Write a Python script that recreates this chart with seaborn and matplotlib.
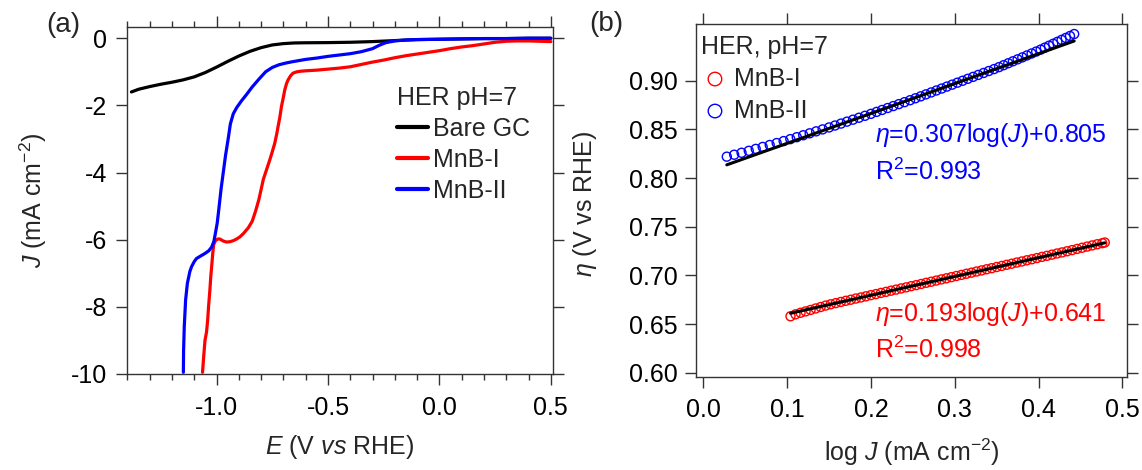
import matplotlib
matplotlib.use("Agg")
import matplotlib.pyplot as plt
import seaborn as sns
import pandas as pd
from matplotlib.ticker import MultipleLocator, FixedLocator

# ---------------- (a) polarization curves, HER at pH 7 ----------------
E_bare = [-1.382, -1.35, -1.30, -1.25, -1.20, -1.15, -1.10, -1.05, -1.00, -0.95,
          -0.90, -0.85, -0.80, -0.75, -0.70, -0.65, -0.60, -0.50, -0.40, -0.30,
          -0.20, -0.10, 0.00, 0.10, 0.20, 0.30, 0.40, 0.50]
J_bare = [-1.60, -1.52, -1.44, -1.37, -1.31, -1.24, -1.15, -1.02, -0.86, -0.69,
          -0.53, -0.39, -0.28, -0.20, -0.16, -0.14, -0.135, -0.13, -0.12, -0.10,
          -0.07, -0.04, -0.03, -0.02, -0.01, -0.01, 0.00, 0.00]

E_mnb1 = [-1.063, -1.058, -1.052, -1.045, -1.040, -1.036, -1.030, -1.026, -1.022, -1.017,
          -1.013, -1.005, -0.995, -0.985, -0.970, -0.955, -0.940, -0.925, -0.910, -0.896,
          -0.880, -0.858, -0.840, -0.825, -0.810, -0.800, -0.790, -0.775, -0.761, -0.750,
          -0.739, -0.730, -0.724, -0.716, -0.709, -0.700, -0.694, -0.686, -0.679, -0.668,
          -0.657, -0.640, -0.620, -0.600, -0.550, -0.500, -0.450, -0.400, -0.350, -0.300,
          -0.250, -0.200, -0.150, -0.100, -0.050, 0.000, 0.050, 0.100, 0.150, 0.200,
          0.250, 0.300, 0.350, 0.400, 0.450, 0.500]
J_mnb1 = [-9.95, -9.50, -9.00, -8.75, -8.40, -8.00, -7.50, -7.10, -6.80, -6.40,
          -6.15, -6.03, -5.98, -5.98, -6.04, -6.07, -6.06, -6.03, -5.98, -5.92,
          -5.82, -5.65, -5.45, -5.15, -4.80, -4.50, -4.20, -3.90, -3.62, -3.38,
          -3.13, -2.85, -2.63, -2.35, -2.04, -1.75, -1.54, -1.35, -1.24, -1.12,
          -1.04, -1.00, -0.98, -0.97, -0.95, -0.92, -0.89, -0.85, -0.78, -0.71,
          -0.65, -0.58, -0.52, -0.47, -0.42, -0.37, -0.31, -0.26, -0.22, -0.17,
          -0.12, -0.09, -0.08, -0.08, -0.09, -0.10]

E_mnb2 = [-1.149, -1.148, -1.145, -1.139, -1.131, -1.120, -1.112, -1.100, -1.090, -1.070,
          -1.052, -1.035, -1.022, -1.012, -1.005, -0.997, -0.990, -0.980, -0.970, -0.960,
          -0.948, -0.938, -0.925, -0.910, -0.890, -0.866, -0.840, -0.810, -0.780, -0.750,
          -0.720, -0.690, -0.660, -0.600, -0.550, -0.500, -0.450, -0.400, -0.350, -0.300,
          -0.270, -0.240, -0.200, -0.150, -0.100, -0.050, 0.000, 0.100, 0.200, 0.300,
          0.400, 0.500]
J_mnb2 = [-9.95, -9.30, -8.60, -7.80, -7.30, -6.95, -6.80, -6.65, -6.56, -6.48,
          -6.41, -6.33, -6.22, -6.05, -5.80, -5.50, -5.10, -4.50, -4.00, -3.50,
          -3.00, -2.55, -2.25, -2.07, -1.88, -1.68, -1.45, -1.22, -1.00, -0.87,
          -0.79, -0.74, -0.70, -0.63, -0.59, -0.54, -0.50, -0.46, -0.40, -0.31,
          -0.21, -0.13, -0.08, -0.05, -0.04, -0.035, -0.03, -0.02, -0.01, -0.01,
          0.00, 0.00]

# ---------------- (b) Tafel data ----------------
logJ_mnb2 = [0.0280, 0.0368, 0.0456, 0.0542, 0.0625, 0.0708, 0.0792, 0.0875, 0.0958, 0.1038,
             0.1115, 0.1192, 0.1269, 0.1346, 0.1423, 0.1500, 0.1571, 0.1643, 0.1714, 0.1786,
             0.1857, 0.1929, 0.2000, 0.2067, 0.2133, 0.2200, 0.2267, 0.2333, 0.2400, 0.2467,
             0.2531, 0.2594, 0.2656, 0.2719, 0.2781, 0.2844, 0.2906, 0.2969, 0.3031, 0.3094,
             0.3156, 0.3219, 0.3281, 0.3344, 0.3406, 0.3469, 0.3528, 0.3583, 0.3639, 0.3694,
             0.3750, 0.3806, 0.3861, 0.3917, 0.3972, 0.4025, 0.4075, 0.4125, 0.4175, 0.4225,
             0.4275, 0.4325, 0.4375, 0.4425]
eta_mnb2 = [0.822, 0.824, 0.826, 0.828, 0.830, 0.832, 0.834, 0.836, 0.838, 0.840,
            0.842, 0.844, 0.846, 0.848, 0.850, 0.852, 0.854, 0.856, 0.858, 0.860,
            0.862, 0.864, 0.866, 0.868, 0.870, 0.872, 0.874, 0.876, 0.878, 0.880,
            0.882, 0.884, 0.886, 0.888, 0.890, 0.892, 0.894, 0.896, 0.898, 0.900,
            0.902, 0.904, 0.906, 0.908, 0.910, 0.912, 0.914, 0.916, 0.918, 0.920,
            0.922, 0.924, 0.926, 0.928, 0.930, 0.932, 0.934, 0.936, 0.938, 0.940,
            0.942, 0.944, 0.946, 0.948]

logJ_mnb1 = [0.104, 0.110, 0.116, 0.122, 0.128, 0.134, 0.140, 0.146, 0.152, 0.158,
             0.164, 0.170, 0.176, 0.182, 0.188, 0.194, 0.200, 0.206, 0.212, 0.218,
             0.224, 0.230, 0.236, 0.242, 0.248, 0.254, 0.260, 0.266, 0.272, 0.278,
             0.284, 0.290, 0.296, 0.302, 0.308, 0.314, 0.320, 0.326, 0.332, 0.338,
             0.344, 0.350, 0.356, 0.362, 0.368, 0.374, 0.380, 0.386, 0.392, 0.398,
             0.404, 0.410, 0.416, 0.422, 0.428, 0.434, 0.440, 0.446, 0.452, 0.458,
             0.464, 0.470, 0.476, 0.479]
eta_mnb1 = [0.6580, 0.6600, 0.6616, 0.6630, 0.6645, 0.6660, 0.6675, 0.6690, 0.6703, 0.6715,
            0.6727, 0.6739, 0.6750, 0.6762, 0.6773, 0.6785, 0.6797, 0.6808, 0.6820, 0.6831,
            0.6843, 0.6854, 0.6866, 0.6877, 0.6889, 0.6900, 0.6912, 0.6924, 0.6935, 0.6947,
            0.6959, 0.6970, 0.6982, 0.6994, 0.7005, 0.7017, 0.7028, 0.7040, 0.7051, 0.7063,
            0.7074, 0.7086, 0.7097, 0.7109, 0.7120, 0.7132, 0.7143, 0.7155, 0.7166, 0.7178,
            0.7190, 0.7201, 0.7213, 0.7225, 0.7236, 0.7248, 0.7260, 0.7272, 0.7284, 0.7296,
            0.7308, 0.7320, 0.7331, 0.7338]

# linear Tafel fits: eta = slope * log(J) + intercept
fit_mnb1 = {"slope": 0.193, "intercept": 0.641, "r2": 0.998}
fit_mnb2 = {"slope": 0.307, "intercept": 0.805, "r2": 0.993}

series_a = [("Bare GC", E_bare, J_bare, "black"),
            ("MnB-I", E_mnb1, J_mnb1, "#ff0000"),
            ("MnB-II", E_mnb2, J_mnb2, "#0000ff")]

sns.set_theme(style="ticks")
FS = 18
EDGE = "#333333"
plt.rcParams.update({
    "font.family": ["Liberation Sans", "DejaVu Sans"],
    "mathtext.fontset": "custom",
    "mathtext.rm": "Liberation Sans",
    "mathtext.it": "Liberation Sans:italic",
    "mathtext.bf": "Liberation Sans:bold",
    "axes.unicode_minus": False,
    "font.size": FS,
    "axes.edgecolor": EDGE,
    "axes.linewidth": 1.0,
    "xtick.color": EDGE,
    "ytick.color": EDGE,
    "xtick.labelcolor": "black",
    "ytick.labelcolor": "black",
})

fig = plt.figure(figsize=(11.42, 4.70), dpi=100)
axA = fig.add_axes([0.1110, 0.2043, 0.3729, 0.7372])
axB = fig.add_axes([0.6095, 0.1985, 0.3777, 0.7504])

# ---- panel (a)
for name, E, J, col in series_a:
    df = pd.DataFrame({"E": E, "J": J})
    sns.lineplot(data=df, x="E", y="J", ax=axA, color=col, lw=2.3,
                 sort=False, estimator=None, label=name)

axA.set_xlim(-1.403, 0.508)
axA.set_ylim(-10, 0.32)
axA.xaxis.set_major_locator(FixedLocator([-1.0, -0.5, 0.0, 0.5]))
axA.xaxis.set_minor_locator(MultipleLocator(0.1))
axA.yaxis.set_major_locator(FixedLocator([0, -2, -4, -6, -8, -10]))
axA.set_xticklabels(["-1.0", "-0.5", "0.0", "0.5"])
axA.set_yticklabels(["0", "-2", "-4", "-6", "-8", "-10"])
axA.tick_params(axis="both", which="major", direction="out", length=8, width=1,
                top=True, right=True, labelsize=FS)
axA.tick_params(axis="x", which="minor", direction="out", length=4.5, width=1,
                top=True, bottom=True)
axA.tick_params(axis="x", which="major", pad=8)
axA.tick_params(axis="y", which="major", pad=6)
axA.set_xlabel(r"$\it{E}$ (V $\it{vs}$ RHE)", fontsize=FS, labelpad=9)
axA.set_ylabel(r"$\it{J}$ (mA cm$^{-2}$)", fontsize=FS)
axA.yaxis.set_label_coords(-0.183, 0.5)

legA = axA.legend(title="HER pH=7", loc="upper left", bbox_to_anchor=(0.635, 0.83),
                  frameon=False, fontsize=FS, title_fontsize=FS, alignment="left",
                  handlelength=1.25, handletextpad=0.2, labelspacing=0.27,
                  borderpad=0, borderaxespad=0)
for h in legA.legend_handles:
    h.set_linewidth(3)

# ---- panel (b)
sns.scatterplot(x=logJ_mnb1, y=eta_mnb1, ax=axB, marker="o", s=42,
                facecolors="none", edgecolor="#ff0000", linewidth=1.0, label="MnB-I")
sns.scatterplot(x=logJ_mnb2, y=eta_mnb2, ax=axB, marker="o", s=42,
                facecolors="none", edgecolor="#0000ff", linewidth=1.0, label="MnB-II")

for xs, fit in ((logJ_mnb1, fit_mnb1), (logJ_mnb2, fit_mnb2)):
    xline = [min(xs), max(xs)]
    yline = [fit["slope"] * v + fit["intercept"] for v in xline]
    sns.lineplot(x=xline, y=yline, ax=axB, color="black", lw=2.2,
                 estimator=None, sort=False, label="_nolegend_")

axB.set_xlim(-0.0087, 0.506)
axB.set_ylim(0.5959, 0.9583)
axB.xaxis.set_major_locator(FixedLocator([0.0, 0.1, 0.2, 0.3, 0.4, 0.5]))
axB.yaxis.set_major_locator(FixedLocator([0.60, 0.65, 0.70, 0.75, 0.80, 0.85, 0.90]))
axB.set_xticklabels(["0.0", "0.1", "0.2", "0.3", "0.4", "0.5"])
axB.set_yticklabels(["0.60", "0.65", "0.70", "0.75", "0.80", "0.85", "0.90"])
axB.tick_params(axis="both", which="major", direction="out", length=8, width=1,
                top=True, right=True, labelsize=FS)
axB.tick_params(axis="x", which="major", pad=7)
axB.tick_params(axis="y", which="major", pad=5)
axB.set_xlabel(r"log $\it{J}$ (mA cm$^{-2}$)", fontsize=FS, labelpad=11)
axB.set_ylabel(r"$\it{\eta}$ (V vs RHE)", fontsize=FS)
axB.yaxis.set_label_coords(-0.225, 0.49)

legB = axB.legend(title="HER, pH=7", loc="upper left", bbox_to_anchor=(0.012, 0.97),
                  frameon=False, fontsize=FS, title_fontsize=FS, alignment="left",
                  handlelength=1.1, handletextpad=0.2, labelspacing=0.32,
                  borderpad=0, borderaxespad=0, markerscale=1.5)

def fit_label(fit):
    return r"$\it{\eta}$=%.3flog($\it{J}$)+%.3f" % (fit["slope"], fit["intercept"])

axB.text(0.205, 0.8373, fit_label(fit_mnb2), color="#0000ff", fontsize=FS, va="baseline")
axB.text(0.205, 0.7980, r"R$^2$=%.3f" % fit_mnb2["r2"], color="#0000ff", fontsize=FS, va="baseline")
axB.text(0.205, 0.6530, fit_label(fit_mnb1), color="#ff0000", fontsize=FS, va="baseline")
axB.text(0.205, 0.6148, r"R$^2$=%.3f" % fit_mnb1["r2"], color="#ff0000", fontsize=FS, va="baseline")

fig.text(63 / 1142, 1 - 25 / 470, "(a)", fontsize=20, ha="center", va="center")
fig.text(606 / 1142, 1 - 24 / 470, "(b)", fontsize=20, ha="center", va="center")

fig.savefig("out.png", dpi=100)
